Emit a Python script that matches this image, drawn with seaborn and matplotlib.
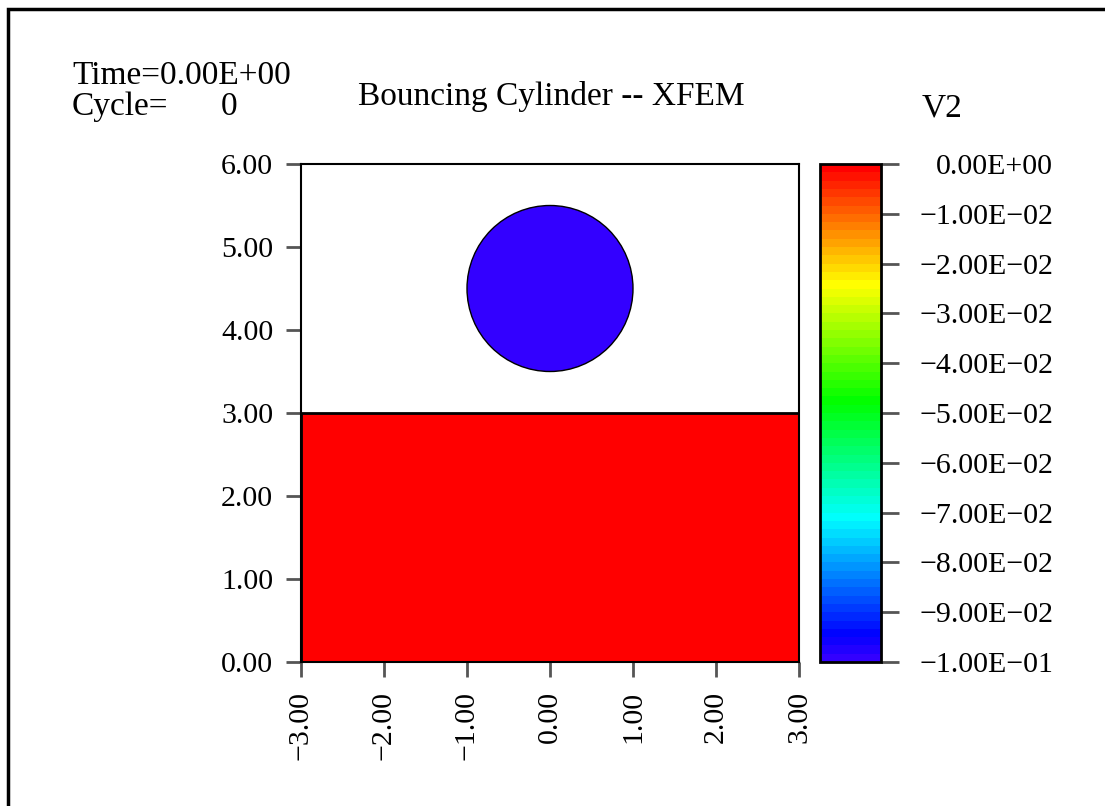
import numpy as np
import matplotlib
matplotlib.use("Agg")
import matplotlib.pyplot as plt
from matplotlib.colors import ListedColormap, Normalize
from matplotlib.patches import Rectangle, Circle
from matplotlib.cm import ScalarMappable
import seaborn as sns

# Model pieces and their V2 values
ground_x = [-3.0, 3.0]
ground_y = [0.0, 3.0]
ground_v2 = 0.0
cylinder_center = [0.0, 4.5]
cylinder_radius = 1.0
cylinder_v2 = -0.1

x_ticks = [-3, -2, -1, 0, 1, 2, 3]
y_ticks = [0, 1, 2, 3, 4, 5, 6]
cbar_ticks = [0.0, -0.01, -0.02, -0.03, -0.04, -0.05, -0.06, -0.07, -0.08, -0.09, -0.1]

title = "Bouncing Cylinder -- XFEM"
time_label = "Time=0.00E+00"
cycle_label = "Cycle="
cycle_value = "0"
var_name = "V2"

sns.set_style("ticks")
plt.rcParams["font.family"] = ["Liberation Serif", "DejaVu Serif"]
plt.rcParams["text.color"] = "black"
plt.rcParams["xtick.labelcolor"] = "black"
plt.rcParams["ytick.labelcolor"] = "black"

MINUS = "\u2212"

# banded rainbow, red at 0 down to blue-violet at -0.1
n_bands = 60
hues = np.linspace(252 / 360, 0, n_bands)
cols = matplotlib.colors.hsv_to_rgb(np.column_stack([hues, np.ones(n_bands), np.ones(n_bands)]))
cmap = ListedColormap(cols)
norm = Normalize(vmin=-0.1, vmax=0.0)

fig = plt.figure(figsize=(11.05, 8.06), dpi=100)
ax = fig.add_axes([301 / 1105, 1 - 662 / 806, 498 / 1105, 498 / 806])
cax = fig.add_axes([820 / 1105, 1 - 662 / 806, 61 / 1105, 498 / 806])

ax.add_patch(Rectangle((ground_x[0], ground_y[0]), ground_x[1] - ground_x[0],
                       ground_y[1] - ground_y[0], facecolor=cmap(norm(ground_v2)),
                       edgecolor="black", linewidth=2))
ax.add_patch(Circle(cylinder_center, cylinder_radius, facecolor=cmap(norm(cylinder_v2)),
                    edgecolor="black", linewidth=1))
ax.set_xlim(-3, 3)
ax.set_ylim(0, 6)
ax.set_xticks(x_ticks)
ax.set_yticks(y_ticks)
ax.set_xticklabels([f"{v:.2f}".replace("-", MINUS) for v in x_ticks], rotation=90, fontsize=21.5)
ax.set_yticklabels([f"{v:.2f}" for v in y_ticks], fontsize=21.5)
ax.tick_params(axis="y", direction="out", length=11, width=2, color="#555555", pad=9)
ax.tick_params(axis="x", direction="out", length=11, width=2, color="#555555", pad=10)
for sp in ax.spines.values():
    sp.set_linewidth(1.5)
    sp.set_color("black")

cb = fig.colorbar(ScalarMappable(norm=norm, cmap=cmap), cax=cax)
cb.set_ticks(cbar_ticks)
cb.set_ticklabels([f"{v:.2E}".replace("-", MINUS) if v != 0 else "0.00E+00" for v in cbar_ticks])
cax.tick_params(direction="out", length=13, width=2, color="#555555", labelsize=21.5, pad=111)
for lab in cax.get_yticklabels():
    lab.set_horizontalalignment("right")
cb.outline.set_linewidth(2)
cb.outline.set_edgecolor("black")

fig.text(72 / 1105, 1 - 76 / 806, time_label, fontsize=24, va="center", ha="left")
fig.text(72 / 1105, 1 - 107 / 806, cycle_label, fontsize=24, va="center", ha="left")
fig.text(237 / 1105, 1 - 107 / 806, cycle_value, fontsize=24, va="center", ha="right")
fig.text(551 / 1105, 1 - 96 / 806, title, fontsize=24, va="center", ha="center")
fig.text(942 / 1105, 1 - 108 / 806, var_name, fontsize=24, va="center", ha="center")

# outer frame
fig.patches.append(Rectangle((8 / 1105, -0.1), 1.2, 1.1 - 9 / 806, transform=fig.transFigure,
                             fill=False, edgecolor="black", linewidth=2.5))

fig.savefig("out.png", dpi=100)
